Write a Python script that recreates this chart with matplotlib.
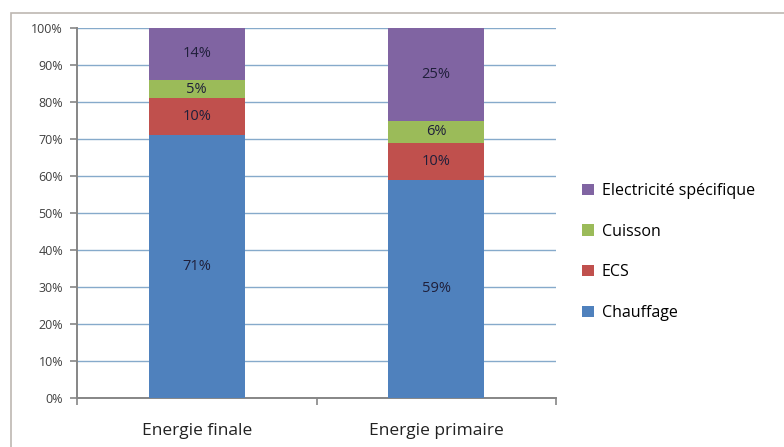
import matplotlib.pyplot as plt
from matplotlib.patches import Rectangle

# Données
categories = ["Energie finale", "Energie primaire"]
series = ["Chauffage", "ECS", "Cuisson", "Electricité spécifique"]
chauffage = [71, 59]
ecs = [10, 10]
cuisson = [5, 6]
electricite = [14, 25]
colors = ["#4F81BD", "#C0504D", "#9BBB59", "#8064A2"]

plt.rcParams['font.family'] = ['Open Sans', 'DejaVu Sans']

fig = plt.figure(figsize=(7.84, 4.47), dpi=100)
ax = fig.add_axes([77 / 784, 1 - 398 / 447, (556 - 77) / 784, (398 - 28) / 447])

# cadre extérieur (coupé à droite et en bas comme dans l'original)
fig.patches.append(Rectangle((11 / 784, -0.05), 1.0, 1 - 13 / 447 + 0.05,
                             transform=fig.transFigure, fill=False,
                             edgecolor="#BDB7B2", lw=1.2, zorder=0))

x = list(range(len(categories)))
bottom = [0, 0]
handles = []
for name, vals, col in zip(series, [chauffage, ecs, cuisson, electricite], colors):
    bars = ax.bar(x, vals, width=0.4, bottom=bottom, color=col, zorder=3, label=name)
    handles.append(bars)
    for xi, v, b in zip(x, vals, bottom):
        ax.text(xi, b + v / 2, f"{v}%", ha="center", va="center",
                fontsize=10.5, color="#1F1F3A", zorder=4)
    bottom = [b + v for b, v in zip(bottom, vals)]

ax.set_xlim(-0.5, 1.5)
ax.set_ylim(0, 100)
ax.set_yticks(range(0, 101, 10))
ax.set_yticklabels([f"{v}%" for v in range(0, 101, 10)], fontsize=9, color="#404040")
ax.yaxis.grid(True, color="#86AACB", lw=1, zorder=0)

ax.set_xticks([0, 1])
ax.set_xticklabels(categories, fontsize=12.5, color="#222222")
ax.set_xticks([-0.5, 0.5, 1.5], minor=True)
ax.tick_params(axis="x", which="major", length=0, pad=18)
ax.tick_params(axis="x", which="minor", length=5, color="#868686", width=1.2)
ax.tick_params(axis="y", length=5, color="#868686", width=1.2, pad=5)

for s in ["top", "right"]:
    ax.spines[s].set_visible(False)
for s in ["left", "bottom"]:
    ax.spines[s].set_color("#868686")
    ax.spines[s].set_linewidth(1.4)

leg = fig.legend(handles[::-1], series[::-1], loc="center left",
                 bbox_to_anchor=(568 / 784, 1 - 252 / 447), frameon=False,
                 fontsize=11.5, labelspacing=1.55, handlelength=0.7,
                 handleheight=0.7, handletextpad=0.5)

fig.savefig("out.png", dpi=100)
